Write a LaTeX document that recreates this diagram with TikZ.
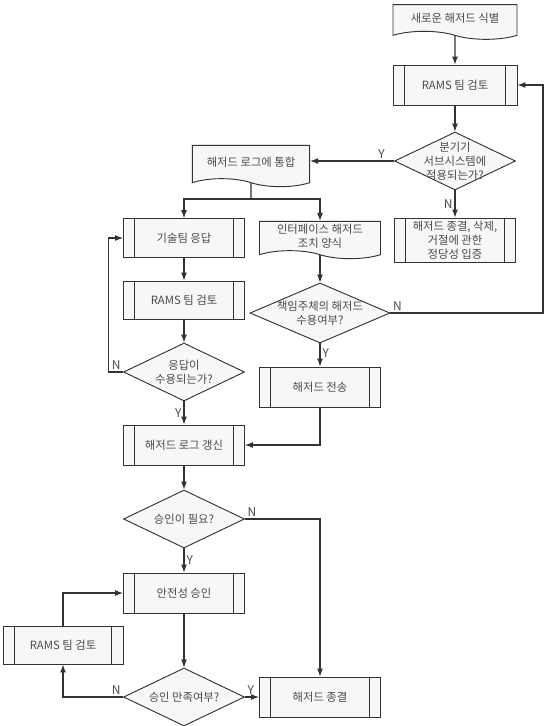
\documentclass[tikz,border=0pt]{standalone}
\usepackage{fontspec}
\setmainfont{Noto Sans CJK KR}
\usepackage{tikz}
\usetikzlibrary{shapes,arrows.meta,positioning,calc}

\definecolor{line}{HTML}{333333}
\definecolor{boxfill}{HTML}{F7F7F7}
\definecolor{txt}{HTML}{4A4A4A}

\tikzset{
    proc/.style={draw=line, fill=boxfill, line width=0.7pt, minimum width=90.75pt, minimum height=30pt,
        inner sep=1pt, align=center,
        path picture={
            \draw[line, line width=0.7pt] ([xshift=8.5pt]path picture bounding box.north west) -- ([xshift=8.5pt]path picture bounding box.south west);
            \draw[line, line width=0.7pt] ([xshift=-8.5pt]path picture bounding box.north east) -- ([xshift=-8.5pt]path picture bounding box.south east);
        }},
    docu/.style={tape, tape bend top=none, tape bend bottom=out and in, tape bend height=6pt,
        draw=line, fill=boxfill, line width=0.7pt, minimum width=90.75pt, minimum height=28pt,
        inner sep=1pt, align=center},
    dec/.style={diamond, draw=line, fill=boxfill, line width=0.7pt, inner sep=0pt,
        minimum width=90.75pt, minimum height=43.5pt},
    dtext/.style={align=center, inner sep=0pt},
    yn/.style={inner sep=1.5pt, font=\fontsize{9}{10}\selectfont},
    flow/.style={->, draw=line, line width=0.8pt}
}

\begin{document}
\begin{tikzpicture}[x=0.75pt, y=-0.75pt, font=\fontsize{8.5}{10.5}\selectfont, text=txt,
    >={Latex[length=6pt,width=4.5pt]}]
    \useasboundingbox (0,0) rectangle (552,726);

    % Right column
    \node[docu, minimum width=93pt, minimum height=26pt] (new) at (455,18) {새로운 해저드 식별};
    \node[proc, minimum width=93pt] (ramsA) at (455,85) {RAMS 팀 검토};
    \node[dec] (split) at (455,161) {};
    \node[dtext] (split-t) at (split) {분기기\\서브시스템에\\적용되는가?};
    \node[proc, minimum height=33pt] (just) at (455,240) {해저드 종결, 삭제,\\거절에 관한\\정당성 입증};

    % Log and branches
    \node[docu, minimum width=88pt, minimum height=31pt] (log) at (251,162) {해저드 로그에 통합};
    \coordinate (fork) at (251,199);
    \node[proc, minimum height=29pt] (tech) at (184,238) {기술팀 응답};
    \node[docu, minimum height=28pt] (iface) at (320,236) {인터페이스 해저드\\조치 양식};
    \node[proc, minimum height=28.5pt] (ramsB) at (184,300) {RAMS 팀 검토};
    \node[dec] (accept) at (184,372) {};
    \node[dtext] (accept-t) at (accept) {응답이\\수용되는가?};
    \node[dec, minimum width=105pt, minimum height=45pt] (owner) at (320,313) {};
    \node[dtext] (owner-t) at (owner) {책임주체의 해저드\\수용여부?};
    \node[proc] (send) at (320,387) {해저드 전송};
    \coordinate (rt) at (543,0);

    % Lower part
    \node[proc] (update) at (184,445) {해저드 로그 갱신};
    \node[dec] (need) at (184,519) {};
    \node[dtext] (need-t) at (need) {승인이 필요?};
    \node[proc] (approve) at (184,593) {안전성 승인};
    \node[proc, minimum width=90pt, minimum height=28.5pt] (ramsC) at (63,645) {RAMS 팀 검토};
    \node[dec] (satisfied) at (184,697) {};
    \node[dtext] (satisfied-t) at (satisfied) {승인 만족여부?};
    \node[proc] (close) at (320,697) {해저드 종결};

    % Connectors
    \draw[flow] (new) -- (ramsA);
    \draw[flow] (ramsA) -- (split);
    \draw[flow] (split.west) -- (split.west -| log.east) node[yn, pos=0.15, above] (y1) {Y};
    \draw[flow] (split) -- (just) node[yn, midway, left] (n1) {N};
    \draw[line, line width=0.8pt] (log) -- (fork);
    \draw[flow] (fork) -| (tech);
    \draw[flow] (fork) -| (iface);
    \draw[flow] (tech) -- (ramsB);
    \draw[flow] (ramsB) -- (accept);
    \draw[flow] (accept.west) node[yn, above left] (n2) {N} -- ++(-15,0) |- (tech.west);
    \draw[flow] (accept) -- (update) node[yn, midway, left] (y2) {Y};
    \draw[flow] (iface) -- (owner);
    \draw[flow] (owner.east) node[yn, above right] (n3) {N} -- (owner.east -| rt) |- (ramsA.east);
    \draw[flow] (owner) -- (send) node[yn, pos=0.4, right] (y3) {Y};
    \draw[flow] (send.south) |- (update.east);
    \draw[flow] (update) -- (need);
    \draw[flow] (need.east) node[yn, above right] (n4) {N} -| (close.north);
    \draw[flow] (need) -- (approve) node[yn, midway, right] (y4) {Y};
    \draw[flow] (approve) -- (satisfied);
    \draw[flow] (satisfied.west) node[yn, above left] (n5) {N} -| (ramsC.south);
    \draw[flow] (ramsC.north) |- (approve.west);
    \draw[flow] (satisfied.east) node[yn, above right] (y5) {Y} -- (close.west);
\end{tikzpicture}
\end{document}
